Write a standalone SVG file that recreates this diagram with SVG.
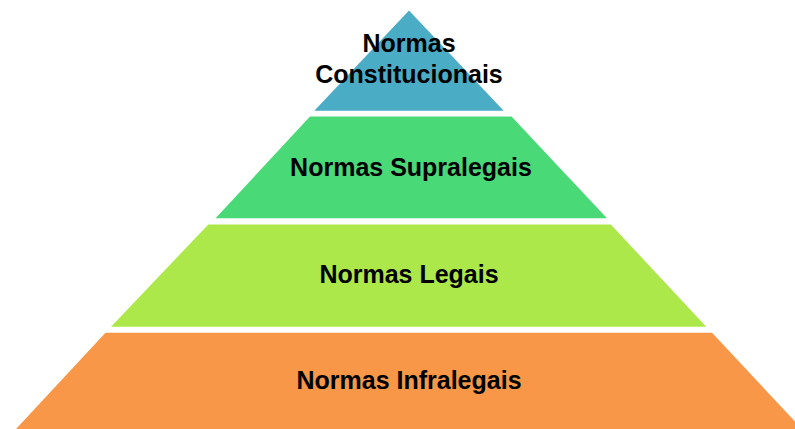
<svg xmlns="http://www.w3.org/2000/svg" width="795" height="429" viewBox="0 0 795 429">
<style>
.lbl{font-family:"Liberation Sans",Arial,sans-serif;font-weight:bold;font-size:25px;fill:#000;text-anchor:middle}
</style>
<rect width="795" height="429" fill="#fff"/>
<g id="tier-constitucionais">
<polygon points="409,10.5 314.3,110.7 503.7,110.7" fill="#4BACC6"/>
<text class="lbl" x="409" y="52.3">Normas</text>
<text class="lbl" x="409" y="83.3">Constitucionais</text>
</g>
<g id="tier-supralegais">
<polygon points="310,116.5 511.5,116.5 607,218.3 215.5,218.3" fill="#4AD977"/>
<text class="lbl" x="411" y="175.7">Normas Supralegais</text>
</g>
<g id="tier-legais">
<polygon points="208.3,224.5 610.8,224.5 706.3,326.7 111,326.7" fill="#ADE84A"/>
<text class="lbl" x="409" y="283.3">Normas Legais</text>
</g>
<g id="tier-infralegais">
<polygon points="105.5,332.7 712,332.7 802,429 16,429" fill="#F79747"/>
<text class="lbl" x="409" y="389.3">Normas Infralegais</text>
</g>
<g id="connectors"></g>
</svg>
